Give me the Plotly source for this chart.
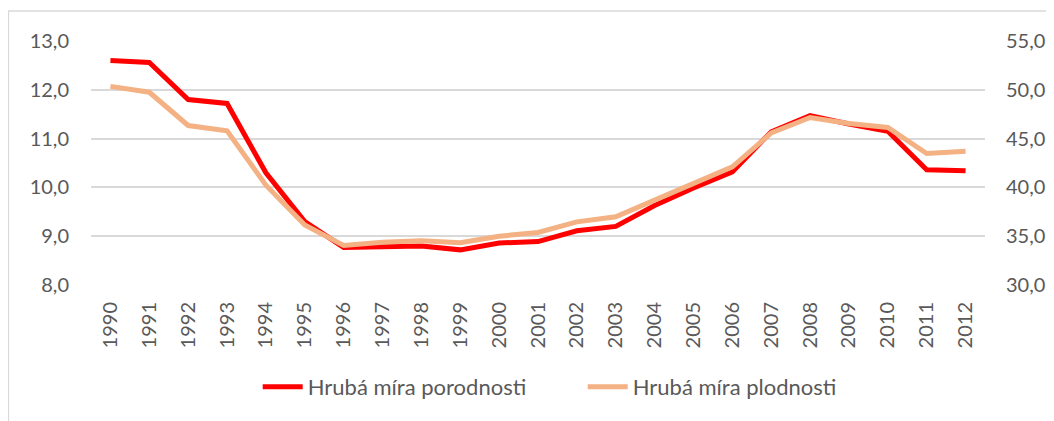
import plotly.graph_objects as go

years = [str(y) for y in range(1990, 2013)]
porodnost = [12.6, 12.56, 11.8, 11.72, 10.3, 9.3, 8.77, 8.79, 8.8, 8.72, 8.86, 8.89,
             9.11, 9.2, 9.63, 9.99, 10.32, 11.14, 11.47, 11.3, 11.15, 10.36, 10.34]
plodnost = [50.35, 49.75, 46.34, 45.79, 40.23, 36.14, 34.05, 34.37, 34.53, 34.33, 35.0, 35.38,
            36.47, 36.99, 38.7, 40.4, 42.1, 45.58, 47.16, 46.55, 46.14, 43.47, 43.71]
left_ticks = [8, 9, 10, 11, 12, 13]
right_ticks = [30, 35, 40, 45, 50, 55]

FONT = "Lato"
GREY = "#595959"
FS = 20

# the page body adds an 8px offset; margins are set accordingly
L, R, T, B = 83, 77, 33, 144
W, H = 1054, 421
PW, PH = W - L - R, H - T - B

fig = go.Figure()
fig.add_trace(go.Scatter(x=years, y=porodnost, name="Hrubá míra porodnosti",
                         mode="lines", line=dict(color="#FF0000", width=5), yaxis="y"))
fig.add_trace(go.Scatter(x=years, y=plodnost, name="Hrubá míra plodnosti",
                         mode="lines", line=dict(color="#F4B183", width=5), yaxis="y2"))

fig.update_layout(
    width=W, height=H,
    margin=dict(l=L, r=R, t=T, b=B, autoexpand=False),
    paper_bgcolor="white", plot_bgcolor="white",
    separators=", ",
    font=dict(family=FONT, size=FS, color=GREY),
    xaxis=dict(type="category", tickangle=-90, showgrid=False, zeroline=False,
               showline=False, ticks="", tickfont=dict(size=FS, color=GREY),
               range=[-0.5, 22.5], ticklabelstandoff=12, automargin=False),
    yaxis=dict(range=[8, 13], tickvals=left_ticks, tickformat=".1f",
               showgrid=True, gridcolor="#D9D9D9", gridwidth=1.5,
               zeroline=False, showline=False, ticks="",
               tickfont=dict(size=FS, color=GREY), ticklabelstandoff=21,
               automargin=False),
    yaxis2=dict(range=[30, 55], tickvals=right_ticks, tickformat=".1f",
                overlaying="y", side="right", showgrid=False,
                zeroline=False, showline=False, ticks="",
                tickfont=dict(size=FS, color=GREY), ticklabelstandoff=20,
                automargin=False),
    legend=dict(orientation="h", x=0.55, xanchor="center",
                y=(277 - 379) / PH, yanchor="middle",
                font=dict(size=22, color=GREY), itemwidth=40,
                entrywidth=270, entrywidthmode="pixels",
                bgcolor="rgba(0,0,0,0)"),
    showlegend=True,
    shapes=[dict(type="rect", xref="paper", yref="paper",
                 x0=(0.5 - L) / PW, x1=(W + 20 - L) / PW,
                 y0=-(B + 20) / PH, y1=1 + (T - 3) / PH,
                 line=dict(color="#D9D9D9", width=1.3), layer="below")],
)

fig.write_html("out.html")
